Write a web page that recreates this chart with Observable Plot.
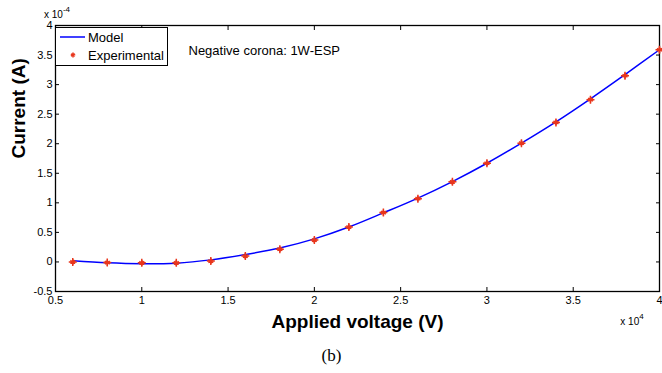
<!DOCTYPE html>
<html>
<head>
<meta charset="utf-8">
<script src="https://cdn.jsdelivr.net/npm/d3@7"></script>
<script src="https://cdn.jsdelivr.net/npm/@observablehq/plot@0.6"></script>
<style>
  html, body { margin: 0; padding: 0; background: #fff; }
  #wrap { position: relative; width: 662px; height: 373px; font-family: "Liberation Sans", Arial, sans-serif; }
  #legend { position: absolute; left: 55px; top: 27px; }
</style>
</head>
<body>
<div id="wrap">
  <div id="chart"></div>
  <svg id="legend" width="113" height="39"></svg>
</div>
<script>
// Applied voltage, in units of 10^4 V
const voltage = [0.6, 0.8, 1.0, 1.2, 1.4, 1.6, 1.8, 2.0, 2.2, 2.4, 2.6, 2.8, 3.0, 3.2, 3.4, 3.6, 3.8, 4.0];
// Current, in units of 10^-4 A
const modelCurrent = [0.02, -0.015, -0.03, -0.02, 0.035, 0.125, 0.235, 0.39, 0.59, 0.83, 1.08, 1.36, 1.67, 2.01, 2.37, 2.76, 3.17, 3.59];
const expCurrent   = [0.0, -0.01, -0.015, -0.015, 0.015, 0.10, 0.216, 0.37, 0.59, 0.835, 1.07, 1.355, 1.67, 2.01, 2.36, 2.745, 3.15, 3.59];
const xTicks = [0.5, 1, 1.5, 2, 2.5, 3, 3.5, 4];
const yTicks = [-0.5, 0, 0.5, 1, 1.5, 2, 2.5, 3, 3.5, 4];
const seriesNames = ["Model", "Experimental"];
const annotation = "Negative corona: 1W-ESP";
const xLabel = "Applied voltage (V)";
const yLabel = "Current (A)";
const caption = "(b)";

const model = voltage.map((v, i) => ({v, c: modelCurrent[i]}));
const exper = voltage.map((v, i) => ({v, c: expCurrent[i]}));

const blue = "#0000ff";
const red = "#e8361c";
const font = "Liberation Sans, Arial, sans-serif";
const blank = () => "";

const plot = Plot.plot({
  width: 662,
  height: 373,
  marginLeft: 55,
  marginRight: 3,
  marginTop: 25,
  marginBottom: 82,
  style: {fontFamily: font, color: "black", background: "white"},
  x: {domain: [0.5, 4]},
  y: {domain: [-0.5, 4]},
  marks: [
    Plot.frame({stroke: "black", strokeWidth: 1.3}),
    Plot.axisX({anchor: "bottom", ticks: xTicks, tickSize: -4, tickFormat: blank, label: null}),
    Plot.axisX({anchor: "top", ticks: xTicks, tickSize: -4, tickFormat: blank, label: null}),
    Plot.axisY({anchor: "left", ticks: yTicks, tickSize: -4, tickFormat: blank, label: null}),
    Plot.axisY({anchor: "right", ticks: yTicks, tickSize: -4, tickFormat: blank, label: null}),
    Plot.axisX({anchor: "bottom", ticks: xTicks, tickSize: 0, tickPadding: 5, fontSize: 11, tickFormat: d => String(d), label: null}),
    Plot.axisY({anchor: "left", ticks: yTicks, tickSize: 0, tickPadding: 3, fontSize: 11, tickFormat: d => String(d), label: null}),
    Plot.line(model, {x: "v", y: "c", stroke: blue, strokeWidth: 1.5, curve: "catmull-rom"}),
    Plot.dot(exper, {x: "v", y: "c", symbol: "asterisk", r: 2.7, stroke: red, strokeWidth: 1.5}),
    Plot.dot(exper, {x: "v", y: "c", symbol: "plus", r: 2.7, stroke: red, strokeWidth: 1.5}),
    Plot.text([annotation], {frameAnchor: "top-left", text: d => d, dx: 133, dy: 25, textAnchor: "start", lineAnchor: "middle", fontSize: 13, fill: "black"}),
    Plot.text([xLabel], {frameAnchor: "bottom", text: d => d, dy: 30, lineAnchor: "middle", fontSize: 19, fontWeight: "bold", fill: "black"}),
    Plot.text([yLabel], {frameAnchor: "left", text: d => d, dx: -37, rotate: -90, lineAnchor: "middle", fontSize: 19, fontWeight: "bold", fill: "black"}),
    Plot.text([caption], {frameAnchor: "bottom", text: d => d, dx: -26, dy: 64, lineAnchor: "middle", fontSize: 17, fontFamily: "Liberation Serif, Times New Roman, serif", fill: "black"})
  ]
});
document.getElementById("chart").appendChild(plot);

// exponent multipliers (MATLAB style)
const svg = d3.select(plot);
function expText(x, y, exp) {
  const t = svg.append("text").attr("x", x).attr("y", y)
    .attr("font-size", 10).attr("font-family", font).attr("fill", "black");
  t.append("tspan").text("x 10");
  t.append("tspan").attr("dy", -6).attr("font-size", 8).text(exp);
}
expText(57, 18, "-4");
expText(632, 325, "4");

// legend
const lg = d3.select("#legend");
lg.append("rect").attr("x", 0.5).attr("y", 0.5).attr("width", 112).attr("height", 38)
  .attr("fill", "white").attr("stroke", "black").attr("stroke-width", 1);
lg.append("line").attr("x1", 5).attr("x2", 30).attr("y1", 10).attr("y2", 10)
  .attr("stroke", blue).attr("stroke-width", 1.5);
const sym = d3.symbol().size(16);
lg.append("path").attr("transform", "translate(18,28)").attr("d", sym.type(d3.symbolAsterisk)())
  .attr("stroke", red).attr("stroke-width", 1.5).attr("fill", "none");
lg.selectAll("text.l").data(seriesNames).join("text")
  .attr("x", 33).attr("y", (d, i) => 10 + i * 18).attr("dy", "0.35em")
  .attr("font-size", 13).attr("font-family", font).attr("fill", "black").text(d => d);
</script>
</body>
</html>
